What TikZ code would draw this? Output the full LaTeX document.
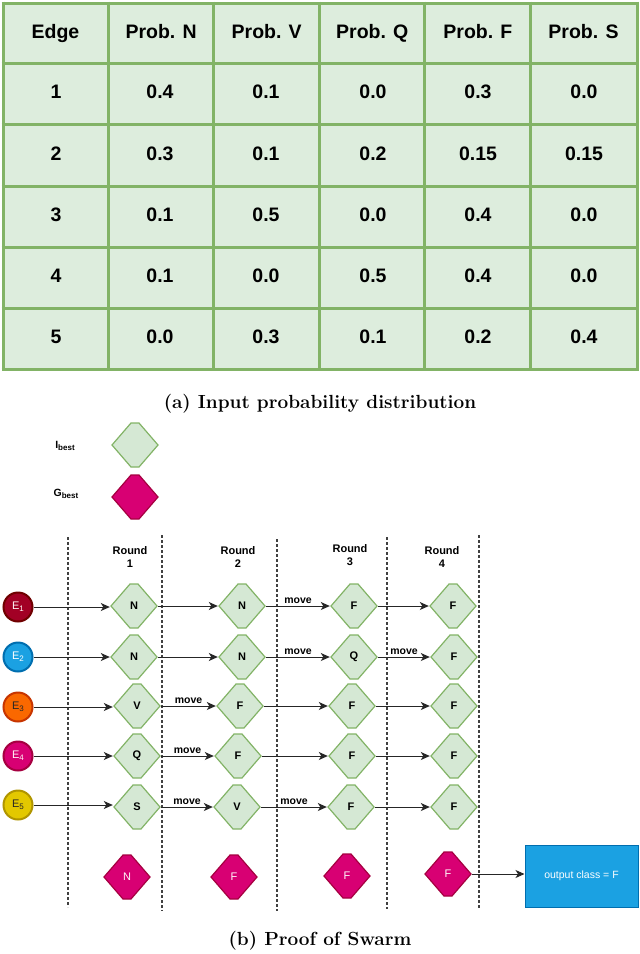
\documentclass[tikz,border=0pt]{standalone}
\usepackage{fontspec}
\setsansfont{Liberation Sans}
\usetikzlibrary{arrows.meta}
\definecolor{gfill}{HTML}{D5E8D4}
\definecolor{gline}{HTML}{82B366}
\definecolor{mfill}{HTML}{D80073}
\definecolor{mline}{HTML}{A50040}
\definecolor{bfill}{HTML}{1BA1E2}
\definecolor{bline}{HTML}{006EAF}
\definecolor{rfill}{HTML}{A20025}
\definecolor{rline}{HTML}{6F0000}
\definecolor{ofill}{HTML}{FA6800}
\definecolor{oline}{HTML}{C73500}
\definecolor{yfill}{HTML}{E3C800}
\definecolor{yline}{HTML}{B09500}
\newcommand{\subs}[1]{\raisebox{-2.2pt}{\fontsize{8}{9}\selectfont #1}}
\tikzset{
  hexshape/.style 2 args={rectangle, draw=none, minimum width=48pt, minimum height=46pt, inner sep=0pt,
    path picture={\draw[draw=#1, fill=#2, line width=1.2pt]
      ([xshift=1pt]path picture bounding box.west)
      -- ([xshift=-4pt,yshift=-1pt]path picture bounding box.north)
      -- ([xshift=4pt,yshift=-1pt]path picture bounding box.north)
      -- ([xshift=-1pt]path picture bounding box.east)
      -- ([xshift=4pt,yshift=1pt]path picture bounding box.south)
      -- ([xshift=-4pt,yshift=1pt]path picture bounding box.south) -- cycle;}},
  pdia/.style={hexshape={gline}{gfill}, font=\sffamily\bfseries\fontsize{11}{13}\selectfont},
  mdia/.style={hexshape={mline}{mfill}, text=white!92!pink, font=\sffamily\fontsize{11}{13}\selectfont},
  ent/.style 2 args={circle, draw=#1, fill=#2, line width=2pt, minimum size=29pt, inner sep=0pt,
    font=\sffamily\fontsize{11}{12}\selectfont},
  arr/.style={-{Stealth[length=9pt,width=8pt,inset=2.5pt]}, line width=0.9pt, draw=black!85},
  mv/.style={above, font=\sffamily\bfseries\fontsize{10.5}{12}\selectfont, inner sep=2pt},
  rnd/.style={align=center, font=\sffamily\bfseries\fontsize{11}{13}\selectfont},
  sep/.style={draw=black!75, line width=1.1pt, dash pattern=on 3pt off 2pt},
  tcell/.style={font=\sffamily\bfseries\fontsize{19.5}{22}\selectfont, text height=14pt, text depth=4pt, inner sep=0pt},
  capt/.style={font=\bfseries\fontsize{19}{22}\selectfont},
  leg/.style={font=\sffamily\bfseries\fontsize{10.5}{12}\selectfont},
}
\begin{document}
\begin{tikzpicture}[x=1pt,y=-1pt]
\useasboundingbox (0,0) rectangle (640,954);
% table
\fill[gfill!80!white] (3,3) rectangle (637,369);
\foreach \x in {3,108,213,319,424,530,637} \draw[gline, line width=3pt] (\x,1.5) -- (\x,370.5);
\foreach \y in {3,63,124,186,247,308,369} \draw[gline, line width=3pt] (1.5,\y) -- (638.5,\y);
\foreach \t [count=\c] in {Edge,Prob. N,Prob. V,Prob. Q,Prob. F,Prob. S}
  \node[tcell] (h\c) at ({55.5+105.6*(\c-1)},33) {\t};
\foreach \r/\yy/\a/\b/\cc/\d/\e/\f in {1/93.5/1/0.4/0.1/0.0/0.3/0.0, 2/155/2/0.3/0.1/0.2/0.15/0.15, 3/216.5/3/0.1/0.5/0.0/0.4/0.0, 4/277.5/4/0.1/0.0/0.5/0.4/0.0, 5/338.5/5/0.0/0.3/0.1/0.2/0.4}{
  \node[tcell] (v\r a) at (56,\yy) {\a};
  \node[tcell] (v\r b) at (160,\yy) {\b};
  \node[tcell] (v\r c) at (266,\yy) {\cc};
  \node[tcell] (v\r d) at (373,\yy) {\d};
  \node[tcell] (v\r e) at (478,\yy) {\e};
  \node[tcell] (v\r f) at (584,\yy) {\f};
}
\node[capt] (capa) at (320,404) {(a) Input probability distribution};
% legend
\node[leg] (lI) at (65,446) {I\subs{best}};
\node[pdia] (legI) at (135,445) {};
\node[leg] (lG) at (66,494) {G\subs{best}};
\node[mdia] (legG) at (135,497) {};
% separators
\draw[sep] (68,537) -- (68,907);
\draw[sep] (162,535) -- (162,911);
\draw[sep] (277,539) -- (277,911);
\draw[sep] (387,537) -- (387,909);
\draw[sep] (479,535) -- (479,908);
% rounds
\node[rnd] (r1) at (130,557) {Round\\1};
\node[rnd] (r2) at (238,557) {Round\\2};
\node[rnd] (r3) at (350,555) {Round\\3};
\node[rnd] (r4) at (442,557) {Round\\4};
% entities
\node[ent={rline}{rfill}, text=white!85!pink] (e1) at (18,607) {E\subs{1}};
\node[ent={bline}{bfill}, text=white] (e2) at (18,657) {E\subs{2}};
\node[ent={oline}{ofill}, text=black!85] (e3) at (18,707) {E\subs{3}};
\node[ent={mline}{mfill}, text=white!85!pink] (e4) at (18,756) {E\subs{4}};
\node[ent={yline}{yfill}, text=black!85] (e5) at (18,805) {E\subs{5}};
% diamonds
\node[pdia] (a1) at (134,606) {N};
\node[pdia] (b1) at (242,606) {N};
\node[pdia] (c1) at (354,606) {F};
\node[pdia] (d1) at (453,606) {F};
\node[pdia] (a2) at (134,657) {N};
\node[pdia] (b2) at (242,657) {N};
\node[pdia] (c2) at (354,657) {Q};
\node[pdia] (d2) at (454,657) {F};
\node[pdia] (a3) at (137,706) {V};
\node[pdia] (b3) at (240,706) {F};
\node[pdia] (c3) at (352,706) {F};
\node[pdia] (d3) at (454,706) {F};
\node[pdia] (a4) at (137,756) {Q};
\node[pdia] (b4) at (238,756) {F};
\node[pdia] (c4) at (352,756) {F};
\node[pdia] (d4) at (454,756) {F};
\node[pdia] (a5) at (137,807) {S};
\node[pdia] (b5) at (237,807) {V};
\node[pdia] (c5) at (351,807) {F};
\node[pdia] (d5) at (454,807) {F};
% arrows
\foreach \i in {1,...,5}{
  \draw[arr] (e\i.east) -- (e\i.east -| a\i.west);
  \draw[arr] (a\i.east) -- (a\i.east -| b\i.west);
  \draw[arr] (b\i.east) -- (b\i.east -| c\i.west);
  \draw[arr] (c\i.east) -- (c\i.east -| d\i.west);
}
\path (b1.east) -- node[mv] (m1) {move} (b1.east -| c1.west);
\path (b2.east) -- node[mv] (m2) {move} (b2.east -| c2.west);
\path (c2.east) -- node[mv] (m3) {move} (c2.east -| d2.west);
\path (a3.east) -- node[mv] (m4) {move} (a3.east -| b3.west);
\path (a4.east) -- node[mv] (m5) {move} (a4.east -| b4.west);
\path (a5.east) -- node[mv] (m6) {move} (a5.east -| b5.west);
\path (b5.east) -- node[mv] (m7) {move} (b5.east -| c5.west);
% gbest row
\node[mdia] (g1) at (127,877) {N};
\node[mdia] (g2) at (234,877) {F};
\node[mdia] (g3) at (347,876) {F};
\node[mdia] (g4) at (448,874) {F};
\node[draw=bline, fill=bfill, line width=1pt, minimum width=113pt, minimum height=62pt, inner sep=0pt,
  text=white, font=\sffamily\fontsize{10.5}{12}\selectfont] (out) at (581.5,876) {output class = F};
\draw[arr] (g4.east) -- (g4.east -| out.west);
\node[capt] (capb) at (320,941) {(b) Proof of Swarm};
\end{tikzpicture}
\end{document}
